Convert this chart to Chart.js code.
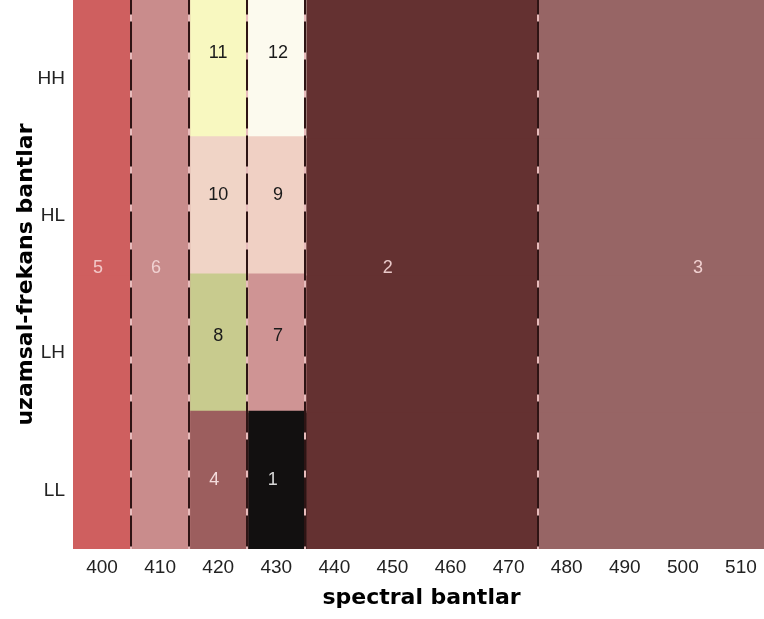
<!DOCTYPE html>
<html>
<head>
<meta charset="utf-8">
<script src="https://cdn.jsdelivr.net/npm/chart.js@4"></script>
<style>
  html, body { margin: 0; padding: 0; background: #fff; overflow: hidden; }
</style>
</head>
<body>
<canvas id="bandChart" width="770" height="619"></canvas>
<script>
// rows, bottom to top (y = 1..4)
const rowLabels = ['LL', 'LH', 'HL', 'HH'];
const rowValues = [1, 2, 3, 4];
const xTickValues = [400, 410, 420, 430, 440, 450, 460, 470, 480, 490, 500, 510];
const bandEdges = [405, 415, 425, 435, 475];

// one entry per numbered block
const blockIds   = [5, 6, 4, 8, 10, 11, 1, 7, 9, 12, 2, 3];
const blockFrom  = [395, 405, 415, 415, 415, 415, 425, 425, 425, 425, 435, 475];
const blockTo    = [405, 415, 425, 425, 425, 425, 435, 435, 435, 435, 475, 515];
const blockRowLo = [1, 1, 1, 2, 3, 4, 1, 2, 3, 4, 1, 1];
const blockRowHi = [4, 4, 1, 2, 3, 4, 1, 2, 3, 4, 4, 4];

// where each number sits (data units)
const labelX = [399.3, 409.3, 419.3, 420, 420, 420, 429.4, 430.3, 430.3, 430.3, 449.2, 502.6];
const labelY = [2.55, 2.55, 1.0, 2.05, 3.08, 4.11, 1.0, 2.05, 3.08, 4.11, 2.55, 2.55];

const blockColors = ['#cf5f5f', '#c98c8c', '#9c5e5e', '#c8cb8e', '#f0d4c6', '#f8f8c0',
                     '#121010', '#cf9494', '#f0d0c4', '#fcfaee', '#643131', '#976565'];
const labelColors = ['#f2c8c8', '#f0d2d2', '#f4dcdc', '#1a1a1a', '#1a1a1a', '#1a1a1a',
                     '#d8d8d8', '#1a1a1a', '#1a1a1a', '#1a1a1a', '#e8c8c8', '#f0d0d0'];

const tickFont = { family: '"Liberation Sans", Arial, sans-serif', size: 19 };
const titleFont = { family: '"DejaVu Sans", Verdana, sans-serif', size: 22, weight: 'bold' };

const datasets = blockIds.map((id, i) => {
    const data = [];
    for (let r = blockRowLo[i]; r <= blockRowHi[i]; r++) {
        data.push({ x: [blockFrom[i], blockTo[i]], y: r });
    }
    return { label: String(id), data, backgroundColor: blockColors[i], borderWidth: 0, inflateAmount: 1 };
});

// numbers written on the blocks
const blockLabels = {
    id: 'blockLabels',
    afterDraw(chart) {
        const { ctx, scales: { x, y } } = chart;
        ctx.save();
        ctx.font = '18px "Liberation Sans", Arial, sans-serif';
        ctx.textAlign = 'center';
        ctx.textBaseline = 'middle';
        blockIds.forEach((id, i) => {
            ctx.fillStyle = labelColors[i];
            ctx.fillText(String(id), x.getPixelForValue(labelX[i]), y.getPixelForValue(labelY[i]));
        });
        ctx.restore();
    }
};

function edgeAxis(z, color, dash) {
    return {
        type: 'linear', position: 'top', min: 395, max: 515,
        afterBuildTicks: a => { a.ticks = bandEdges.map(v => ({ value: v })); },
        afterFit: a => { a.height = 0; },
        ticks: { display: false },
        grid: { color, lineWidth: 2, drawTicks: false, z },
        border: { display: false, dash, dashOffset: 16.5 }
    };
}

new Chart(document.getElementById('bandChart'), {
    type: 'bar',
    data: { datasets },
    options: {
        indexAxis: 'y',
        responsive: false,
        animation: false,
        devicePixelRatio: 1,
        layout: { padding: 0 },
        datasets: { bar: { barPercentage: 1, categoryPercentage: 1, grouped: false } },
        plugins: { legend: { display: false }, tooltip: { enabled: false } },
        scales: {
            x: {
                type: 'linear', min: 395, max: 515,
                afterBuildTicks: a => { a.ticks = xTickValues.map(v => ({ value: v })); },
                afterFit: a => { a.height = 70; },
                grid: { display: false, drawTicks: false },
                border: { display: false },
                ticks: { padding: 7, font: tickFont, color: '#222', maxRotation: 0, autoSkip: false },
                title: { display: true, text: 'spectral bantlar', font: titleFont, color: '#000', padding: { top: 4, bottom: 8 } }
            },
            y: {
                type: 'linear', min: 0.5, max: 4.5, offset: false,
                afterBuildTicks: a => { a.ticks = rowValues.map(v => ({ value: v })); },
                afterFit: a => { a.width = 73; a.paddingTop = 0; a.paddingBottom = 0; },
                grid: { display: false, drawTicks: false, offset: false },
                border: { display: false },
                ticks: {
                    padding: 8, labelOffset: 10, font: tickFont, color: '#222',
                    callback: v => rowLabels[rowValues.indexOf(v)]
                },
                title: { display: true, text: 'uzamsal-frekans bantlar', font: titleFont, color: '#000', padding: { top: 13, bottom: 0 } }
            },
            edgesLight: edgeAxis(1, '#e8bcbc', []),
            edges: edgeAxis(2, '#2e1414', [31, 7])
        }
    },
    plugins: [blockLabels]
});
</script>
</body>
</html>
